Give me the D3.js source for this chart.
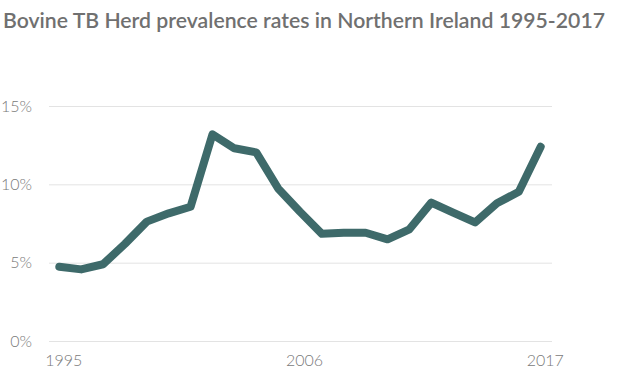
<!DOCTYPE html>
<html>
<head>
<meta charset="utf-8">
<style>
  body { margin: 0; background: #fff; }
  svg { display: block; }
</style>
</head>
<body>
<script src="https://d3js.org/d3.v7.min.js"></script>
<script>
// data
var years = [1995, 1996, 1997, 1998, 1999, 2000, 2001, 2002, 2003, 2004, 2005, 2006,
             2007, 2008, 2009, 2010, 2011, 2012, 2013, 2014, 2015, 2016, 2017];
var prevalence = [4.74, 4.57, 4.9, 6.2, 7.62, 8.15, 8.57, 13.19, 12.3, 12.04, 9.74, 8.25,
                  6.84, 6.91, 6.91, 6.49, 7.13, 8.83, 8.19, 7.57, 8.79, 9.53, 12.4];
var yTicks = [0, 5, 10, 15];
var xTicks = [1995, 2006, 2017];
var title = "Bovine TB Herd prevalence rates in Northern Ireland 1995-2017";

var width = 620, height = 376;
var svg = d3.select("body").append("svg")
    .attr("width", width)
    .attr("height", height);

var x = d3.scaleLinear().domain([1995, 2017]).range([59.3, 540.7]);
var y = d3.scaleLinear().domain([0, 15]).range([341, 106]);

svg.append("text")
    .attr("x", 3)
    .attr("y", 28)
    .attr("font-family", "Lato, sans-serif")
    .attr("font-weight", 600)
    .attr("font-size", 21)
    .attr("fill", "#707070")
    .attr("textLength", 602)
    .attr("lengthAdjust", "spacingAndGlyphs")
    .text(title);

// gridlines + y labels
var yAxis = d3.axisLeft(y)
    .tickValues(yTicks)
    .tickSize(-(552 - 49))
    .tickPadding(17)
    .tickFormat(function (d) { return d + "%"; });

var gy = svg.append("g")
    .attr("transform", "translate(49,0)")
    .call(yAxis);
gy.select(".domain").remove();
gy.selectAll(".tick line").attr("stroke", "#e3e3e3").attr("stroke-width", 1);
gy.selectAll(".tick text")
    .attr("font-family", "Lato, sans-serif")
    .attr("font-weight", 300)
    .attr("font-size", 16)
    .attr("fill", "#7a7a7a");

// x labels
var xAxis = d3.axisBottom(x)
    .tickValues(xTicks)
    .tickSize(0)
    .tickPadding(14)
    .tickFormat(d3.format("d"));

var gx = svg.append("g")
    .attr("transform", "translate(4,341)")
    .call(xAxis);
gx.select(".domain").remove();
gx.selectAll(".tick text")
    .attr("font-family", "Lato, sans-serif")
    .attr("font-weight", 300)
    .attr("font-size", 16)
    .attr("fill", "#7a7a7a");

var line = d3.line()
    .x(function (d, i) { return x(years[i]); })
    .y(function (d) { return y(d); });

svg.append("path")
    .datum(prevalence)
    .attr("d", line)
    .attr("fill", "none")
    .attr("stroke", "#3e6a6a")
    .attr("stroke-width", 8)
    .attr("stroke-linecap", "round")
    .attr("stroke-linejoin", "round");
</script>
</body>
</html>
